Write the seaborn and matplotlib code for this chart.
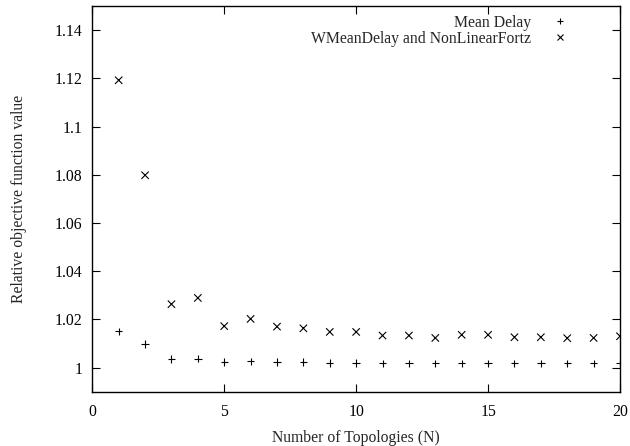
import matplotlib
matplotlib.use("Agg")
import matplotlib.pyplot as plt
import seaborn as sns
import pandas as pd
from matplotlib.lines import Line2D

# Number of topologies evaluated
topologies = list(range(1, 21))

# Relative objective value for each formulation
mean_delay = [1.0150, 1.0098, 1.0035, 1.0037, 1.0023, 1.0026, 1.0023, 1.0023,
              1.0019, 1.0019, 1.0017, 1.0017, 1.0017, 1.0018, 1.0018, 1.0017,
              1.0017, 1.0017, 1.0017, 1.0017]
wmean_nonlinear = [1.1192, 1.0798, 1.0263, 1.0289, 1.0172, 1.0202, 1.0170, 1.0163,
                   1.0148, 1.0148, 1.0133, 1.0133, 1.0123, 1.0136, 1.0136, 1.0126,
                   1.0126, 1.0122, 1.0123, 1.0130]

series_names = ["Mean Delay", "WMeanDelay and NonLinearFortz"]
x_ticks = [0, 5, 10, 15, 20]
y_ticks = [1.0, 1.02, 1.04, 1.06, 1.08, 1.1, 1.12, 1.14]
y_tick_labels = ["1", "1.02", "1.04", "1.06", "1.08", "1.1", "1.12", "1.14"]

df = pd.DataFrame({
    "N": topologies * 2,
    "value": mean_delay + wmean_nonlinear,
    "series": [series_names[0]] * len(topologies) + [series_names[1]] * len(topologies),
})

FS = 11.3
sns.set_theme(style="ticks")
plt.rcParams["font.family"] = ["Liberation Serif", "DejaVu Serif"]
plt.rcParams["font.size"] = FS

fig = plt.figure(figsize=(6.30, 4.46), dpi=100)
ax = fig.add_axes([92.3 / 630, 1 - 391.7 / 446, (620 - 92.3) / 630, (391.7 - 6) / 446])

markers = {series_names[0]: "+", series_names[1]: "x"}
sns.scatterplot(data=df, x="N", y="value", style="series", markers=markers,
                color="black", s=28, linewidth=0.8, legend=False, ax=ax)

ax.set_xlim(0, 20)
ax.set_ylim(0.99, 1.15)
ax.set_xticks(x_ticks)
ax.set_xticklabels([str(t) for t in x_ticks])
ax.set_yticks(y_ticks)
ax.set_yticklabels(y_tick_labels)
ax.tick_params(axis="both", direction="in", length=6, width=0.8, top=True, right=True,
               labelsize=FS, colors="black")
ax.tick_params(axis="y", pad=7)
ax.tick_params(axis="x", pad=9)
for sp in ax.spines.values():
    sp.set_linewidth(1.0)
    sp.set_color("black")

ax.set_xlabel("Number of Topologies (N)", fontsize=FS, labelpad=7)
ax.set_ylabel("Relative objective function value", fontsize=FS, labelpad=20)

handles = [Line2D([], [], linestyle="none", marker=markers[n], color="black",
                  markersize=5, markeredgewidth=0.8) for n in series_names]
leg = ax.legend(handles, series_names, loc="upper right", frameon=False,
                markerfirst=False, handlelength=2.0, handletextpad=0.9,
                borderpad=0, labelspacing=0.0, fontsize=FS,
                bbox_to_anchor=(584 / 630, 1 - 7 / 446),
                bbox_transform=fig.transFigure)
# right-justify the key entries
for col in leg._legend_box._children[-1]._children:
    col.align = "right"

fig.savefig("out.png", dpi=100)
